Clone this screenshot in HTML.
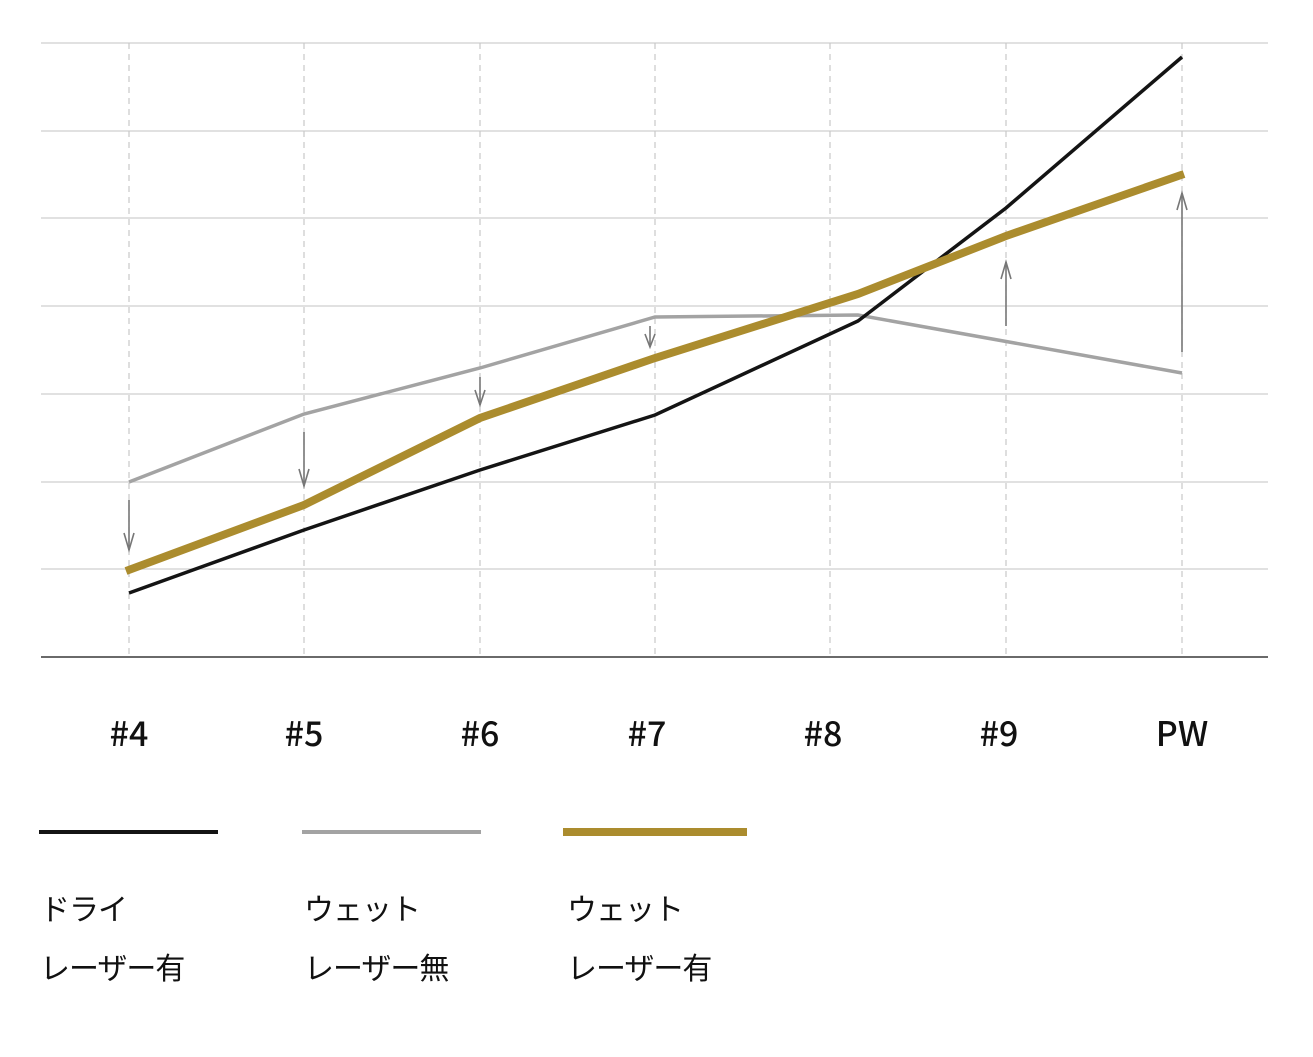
<!DOCTYPE html>
<html><head><meta charset="utf-8"><style>body{margin:0;background:#fff}</style></head><body>
<svg width="1313" height="1052" xmlns="http://www.w3.org/2000/svg" font-family="Liberation Sans, Noto Sans CJK JP, sans-serif">
<g stroke="#cfcfcf" stroke-width="1.2">
<line x1="41" y1="43" x2="1268" y2="43"/><line x1="41" y1="131" x2="1268" y2="131"/><line x1="41" y1="218" x2="1268" y2="218"/><line x1="41" y1="306" x2="1268" y2="306"/><line x1="41" y1="394" x2="1268" y2="394"/><line x1="41" y1="482" x2="1268" y2="482"/><line x1="41" y1="569" x2="1268" y2="569"/>
</g>
<g stroke="#c8c8c8" stroke-width="1.2" stroke-dasharray="6,5">
<line x1="129" y1="43" x2="129" y2="657"/><line x1="304" y1="43" x2="304" y2="657"/><line x1="480" y1="43" x2="480" y2="657"/><line x1="655" y1="43" x2="655" y2="657"/><line x1="830" y1="43" x2="830" y2="657"/><line x1="1006" y1="43" x2="1006" y2="657"/><line x1="1182" y1="43" x2="1182" y2="657"/>
</g>
<line x1="41" y1="657" x2="1268" y2="657" stroke="#111" stroke-width="1.3"/>
<polyline fill="none" stroke="#a3a3a3" stroke-width="3.5" points="129,482 304,414 480,368 655,317 858,315 1182,373"/>
<polyline fill="none" stroke="#141414" stroke-width="3.5" points="129,593 304,530 480,470 655,415 858,321 1006,208 1182,57"/>
<polyline fill="none" stroke="#ab8c2e" stroke-width="8" points="126,571 304,505 480,418 655,358 858,294 1006,236 1184,174"/>
<g stroke="#777" stroke-width="1.6" fill="none">
<line x1="129" y1="500" x2="129" y2="550"/><polyline points="124,533 129,550 134,533"/>
<line x1="304" y1="432" x2="304" y2="486"/><polyline points="299,469 304,486 309,469"/>
<line x1="480" y1="377" x2="480" y2="405"/><polyline points="475,390 480,405 485,390"/>
<line x1="650" y1="326" x2="650" y2="347"/><polyline points="645,334 650,347 655,334"/>
<line x1="1006" y1="326" x2="1006" y2="262"/><polyline points="1001,279 1006,262 1011,279"/>
<line x1="1182" y1="352" x2="1182" y2="193"/><polyline points="1177,210 1182,193 1187,210"/>
</g>
<g font-size="34" font-weight="500" fill="#111" text-anchor="middle" font-family="Noto Sans CJK JP, sans-serif">
<text x="129" y="746">#4</text><text x="304" y="746">#5</text><text x="480" y="746">#6</text><text x="647" y="746">#7</text><text x="823" y="746">#8</text><text x="999" y="746">#9</text><text x="1182" y="746">PW</text>
</g>
<line x1="39" y1="832" x2="218" y2="832" stroke="#141414" stroke-width="4"/>
<line x1="302" y1="832" x2="481" y2="832" stroke="#a3a3a3" stroke-width="4"/>
<line x1="563" y1="832" x2="747" y2="832" stroke="#ab8c2e" stroke-width="8"/>
<g font-size="30" fill="#111" letter-spacing="-1">
<text x="40" y="920">ドライ</text><text x="40" y="979">レーザー有</text>
<text x="304" y="920">ウェット</text><text x="304" y="979">レーザー無</text>
<text x="567" y="920">ウェット</text><text x="567" y="979">レーザー有</text>
</g>
</svg>
</body></html>
